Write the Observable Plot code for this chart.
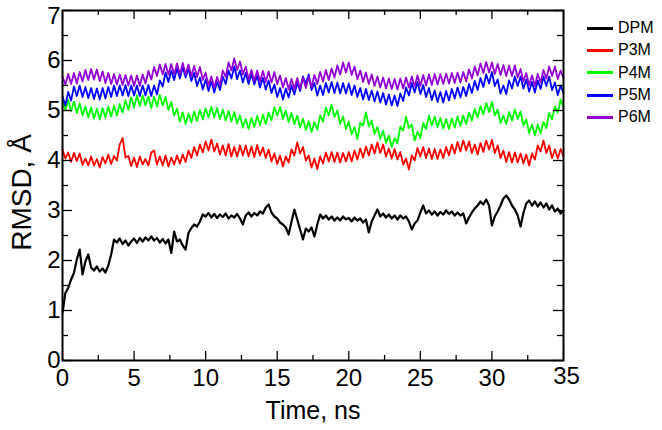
<!DOCTYPE html>
<html>
<head>
<meta charset="utf-8">
<script src="https://cdn.jsdelivr.net/npm/d3@7"></script>
<script src="https://cdn.jsdelivr.net/npm/@observablehq/plot@0.6"></script>
<style>
  html, body { margin: 0; padding: 0; background: #fff; }
  #wrap { position: relative; width: 662px; height: 430px; font-family: "Liberation Sans", Arial, sans-serif; }
  #legend { position: absolute; left: 587px; top: 17px; }
  .item { display: flex; align-items: center; height: 22.3px; }
  .swatch { width: 26px; height: 3px; margin-right: 5px; }
  .lab { font-size: 16px; color: #000; }
</style>
</head>
<body>
<div id="wrap"><div id="chart"></div><div id="legend"></div></div>
<script>
// ---- data (RMSD, Å) sampled every 0.2 ns from 0 to 35 ns ----
const step = 0.2;
const seriesNames = ["DPM", "P3M", "P4M", "P5M", "P6M"];
const seriesColors = ["#000000", "#ff0000", "#00ff00", "#0000ff", "#9400d3"];

const DPM = [0.95,1.35,1.45,1.62,1.75,2.02,2.22,1.72,1.98,2.12,
1.86,1.8,1.88,1.78,1.84,1.76,1.9,2.12,2.42,2.36,
2.44,2.33,2.4,2.3,2.38,2.44,2.35,2.45,2.38,2.46,
2.4,2.48,2.4,2.45,2.36,2.43,2.34,2.42,2.15,2.58,
2.38,2.42,2.3,2.22,2.55,2.65,2.72,2.68,2.78,2.92,
2.88,2.95,2.86,2.93,2.85,2.92,2.87,2.94,2.84,2.9,
2.86,2.93,2.84,2.72,2.9,2.96,2.88,2.95,2.9,2.98,
2.94,3.06,3.12,2.96,2.88,2.84,2.76,2.72,2.66,2.52,
2.78,3.02,2.82,2.62,2.42,2.64,2.58,2.66,2.48,2.72,
2.92,2.84,2.9,2.82,2.88,2.8,2.86,2.8,2.88,2.82,
2.85,2.78,2.86,2.8,2.84,2.76,2.82,2.56,2.78,2.9,
3.02,2.88,2.94,2.86,2.92,2.84,2.9,2.82,2.9,2.84,
2.88,2.78,2.62,2.74,2.8,2.96,3.1,2.94,3.0,2.92,
2.98,2.9,2.97,2.92,3.0,2.93,2.98,2.9,2.96,2.9,
2.94,2.74,2.86,2.96,3.04,3.1,3.18,3.12,3.22,3.1,
2.7,2.88,2.98,3.1,3.24,3.3,3.22,3.1,3.02,2.9,
2.68,2.95,3.14,3.2,3.1,3.18,3.08,3.16,3.06,3.14,
3.02,3.1,2.98,3.04,2.94,3.0];

const P3M = [4.22,4.04,4.16,3.97,4.15,3.99,4.14,3.91,4.04,3.9,
4.08,3.9,4.03,3.86,4.07,3.94,4.12,3.93,4.09,4.0,
4.32,4.45,4.06,4.09,3.89,4.06,3.87,4.08,3.92,4.03,
3.9,4.16,4.2,3.92,4.08,3.9,4.1,3.88,4.06,3.92,
4.1,3.94,4.12,3.97,4.2,4.05,4.27,4.1,4.32,4.16,
4.38,4.2,4.42,4.18,4.34,4.12,4.3,4.1,4.33,4.08,
4.27,4.08,4.3,4.1,4.3,4.08,4.28,4.07,4.31,4.1,
4.26,4.05,4.22,3.98,4.14,3.93,4.1,3.88,4.08,3.96,
4.22,4.1,4.36,4.14,4.27,4.0,4.1,3.86,4.04,3.83,
4.08,3.94,4.16,3.98,4.17,3.97,4.16,3.96,4.15,3.98,
4.17,3.98,4.2,4.02,4.24,4.06,4.28,4.1,4.32,4.14,
4.36,4.15,4.32,4.08,4.24,4.04,4.23,4.02,4.17,3.92,
4.04,3.82,4.1,4.0,4.25,4.08,4.27,4.05,4.24,4.03,
4.23,4.03,4.22,4.05,4.27,4.1,4.32,4.14,4.37,4.18,
4.4,4.2,4.38,4.15,4.32,4.12,4.35,4.17,4.4,4.22,
4.41,4.15,4.3,4.05,4.2,3.97,4.17,3.96,4.16,3.96,
4.14,3.94,4.12,3.9,4.14,4.02,4.3,4.18,4.4,4.15,
4.3,4.05,4.22,4.04,4.23,4.08];

const P4M = [5.2,5.0,5.21,4.98,5.18,4.95,5.14,4.9,5.08,4.86,
5.06,4.84,5.04,4.82,5.05,4.86,5.08,4.88,5.1,4.9,
5.13,4.96,5.2,5.01,5.26,5.06,5.3,5.09,5.3,5.1,
5.28,5.05,5.28,5.08,5.31,5.1,5.27,5.01,5.17,4.9,
5.04,4.78,4.96,4.73,4.94,4.76,4.98,4.79,5.01,4.82,
5.04,4.86,5.08,4.86,5.05,4.83,5.02,4.8,4.99,4.78,
4.97,4.74,4.9,4.66,4.83,4.63,4.85,4.67,4.89,4.7,
4.92,4.73,4.96,4.8,5.06,4.9,5.07,4.83,5.0,4.77,
4.95,4.73,4.9,4.66,4.84,4.61,4.79,4.57,4.77,4.62,
4.9,4.78,5.06,4.9,5.12,4.87,5.0,4.73,4.88,4.63,
4.78,4.52,4.67,4.43,4.75,4.7,4.96,4.68,4.8,4.53,
4.67,4.43,4.6,4.35,4.5,4.27,4.45,4.35,4.68,4.6,
4.88,4.65,4.72,4.4,4.57,4.45,4.75,4.63,4.9,4.7,
4.88,4.66,4.85,4.64,4.83,4.63,4.84,4.66,4.88,4.69,
4.9,4.73,4.96,4.8,5.03,4.86,5.09,4.92,5.15,4.97,
5.17,4.9,5.02,4.75,4.9,4.73,4.97,4.8,5.02,4.83,
4.98,4.7,4.82,4.55,4.72,4.5,4.72,4.54,4.77,4.65,
4.95,4.82,5.08,4.96,5.22,5.05];

const P5M = [5.28,5.1,5.37,5.2,5.48,5.29,5.5,5.27,5.47,5.25,
5.45,5.23,5.44,5.22,5.45,5.24,5.47,5.27,5.5,5.29,
5.5,5.3,5.51,5.29,5.5,5.3,5.5,5.29,5.5,5.3,
5.51,5.29,5.5,5.32,5.6,5.48,5.76,5.57,5.8,5.61,
5.84,5.64,5.87,5.66,5.84,5.59,5.75,5.49,5.66,5.42,
5.62,5.39,5.58,5.36,5.57,5.41,5.68,5.53,5.8,5.64,
5.88,5.63,5.8,5.56,5.75,5.53,5.73,5.52,5.7,5.46,
5.65,5.42,5.6,5.35,5.52,5.27,5.45,5.22,5.44,5.26,
5.5,5.32,5.56,5.39,5.68,5.54,5.72,5.41,5.55,5.3,
5.5,5.31,5.55,5.36,5.57,5.35,5.56,5.34,5.55,5.34,
5.54,5.31,5.5,5.27,5.45,5.22,5.43,5.21,5.4,5.18,
5.38,5.16,5.35,5.12,5.32,5.1,5.3,5.09,5.34,5.19,
5.46,5.3,5.55,5.36,5.57,5.33,5.51,5.27,5.45,5.21,
5.4,5.17,5.37,5.16,5.39,5.2,5.43,5.24,5.46,5.26,
5.47,5.29,5.53,5.35,5.59,5.41,5.65,5.47,5.72,5.54,
5.77,5.49,5.62,5.34,5.5,5.33,5.6,5.44,5.68,5.49,
5.68,5.44,5.62,5.38,5.57,5.36,5.6,5.43,5.68,5.49,
5.68,5.41,5.56,5.31,5.5,5.34];

const P6M = [5.68,5.52,5.73,5.53,5.75,5.54,5.77,5.58,5.81,5.61,
5.83,5.62,5.82,5.59,5.78,5.55,5.75,5.53,5.73,5.52,
5.72,5.51,5.71,5.5,5.7,5.49,5.7,5.49,5.72,5.54,
5.79,5.62,5.87,5.69,5.92,5.72,5.93,5.72,5.93,5.72,
5.94,5.72,5.95,5.72,5.92,5.69,5.89,5.67,5.87,5.61,
5.76,5.5,5.68,5.46,5.67,5.51,5.8,5.67,5.96,5.8,
6.04,5.81,5.98,5.72,5.88,5.63,5.81,5.59,5.8,5.58,
5.79,5.57,5.78,5.56,5.77,5.53,5.7,5.46,5.65,5.42,
5.63,5.43,5.65,5.44,5.66,5.45,5.67,5.47,5.71,5.53,
5.77,5.58,5.81,5.61,5.84,5.66,5.9,5.72,5.96,5.76,
5.96,5.71,5.88,5.63,5.8,5.57,5.76,5.53,5.72,5.49,
5.68,5.46,5.66,5.44,5.64,5.43,5.63,5.42,5.64,5.44,
5.66,5.46,5.68,5.48,5.7,5.49,5.71,5.5,5.72,5.51,
5.73,5.52,5.73,5.53,5.74,5.54,5.75,5.55,5.76,5.56,
5.77,5.58,5.82,5.64,5.88,5.7,5.94,5.75,5.97,5.76,
5.96,5.73,5.93,5.71,5.91,5.69,5.9,5.69,5.9,5.66,
5.83,5.58,5.75,5.51,5.7,5.49,5.73,5.56,5.81,5.64,
5.88,5.69,5.88,5.63,5.8,5.65];

const xMajor = [0, 5, 10, 15, 20, 25, 30, 35];
const xMinor = [2.5, 7.5, 12.5, 17.5, 22.5, 27.5, 32.5];
const yMajor = [0, 1, 2, 3, 4, 5, 6, 7];
const yMinor = [0.5, 1.5, 2.5, 3.5, 4.5, 5.5, 6.5];
const xTitle = "Time, ns";
const yTitle = "RMSD, Å";

// ---- build table ----
const seriesValues = [DPM, P3M, P4M, P5M, P6M];
const rows = [];
seriesValues.forEach((vals, k) => {
  vals.forEach((v, i) => rows.push({s: seriesNames[k], t: +(i * step).toFixed(2), v}));
});

// ---- layout ----
const W = 662, H = 430, mL = 62, mR = 99, mT = 10, mB = 70;
const xDom = [0, 35], yDom = [0, 7];
const pxX = (xDom[1] - xDom[0]) / (W - mL - mR); // data units per px
const pxY = (yDom[1] - yDom[0]) / (H - mT - mB);

const tickRulesX = (vals, len) => [
  Plot.ruleX(vals, {x: d => d, y1: () => yDom[0], y2: () => yDom[0] + len * pxY, stroke: "black", strokeWidth: 1.3}),
  Plot.ruleX(vals, {x: d => d, y1: () => yDom[1], y2: () => yDom[1] - len * pxY, stroke: "black", strokeWidth: 1.3})
];
const tickRulesY = (vals, len) => [
  Plot.ruleY(vals, {y: d => d, x1: () => xDom[0], x2: () => xDom[0] + len * pxX, stroke: "black", strokeWidth: 1.3}),
  Plot.ruleY(vals, {y: d => d, x1: () => xDom[1], x2: () => xDom[1] - len * pxX, stroke: "black", strokeWidth: 1.3})
];

const xLast = xMajor[xMajor.length - 1];
const yLast = yMajor[yMajor.length - 1];

const chart = Plot.plot({
  width: W, height: H,
  marginLeft: mL, marginRight: mR, marginTop: mT, marginBottom: mB,
  style: {fontFamily: "'Liberation Sans', Arial, sans-serif", fontSize: "24px", background: "white", color: "black", overflow: "visible"},
  x: {domain: xDom, axis: null},
  y: {domain: yDom, axis: null},
  color: {domain: seriesNames, range: seriesColors},
  marks: [
    Plot.line(rows.filter(d => d.s !== "DPM"), {x: "t", y: "v", z: "s", stroke: "s", strokeWidth: 1.8}),
    Plot.line(rows.filter(d => d.s === "DPM"), {x: "t", y: "v", stroke: "s", strokeWidth: 2.2}),
    ...tickRulesX(xMajor, 9),
    ...tickRulesX(xMinor, 5),
    ...tickRulesY(yMajor, 10),
    ...tickRulesY(yMinor, 6),
    Plot.frame({stroke: "black", strokeWidth: 2}),
    // tick labels
    Plot.text(xMajor.filter(d => d !== xLast), {x: d => d, frameAnchor: "bottom", lineAnchor: "middle", dy: 18, text: d => String(d), fontSize: 24, fill: "black"}),
    Plot.text([xLast], {x: d => d, frameAnchor: "bottom", lineAnchor: "middle", dy: 16, dx: 3, text: d => String(d), fontSize: 24, fill: "black"}),
    Plot.text(yMajor.filter(d => d !== yLast), {y: d => d, frameAnchor: "left", lineAnchor: "middle", dx: -2, textAnchor: "end", text: d => String(d), fontSize: 24, fill: "black"}),
    Plot.text([yLast], {y: d => d, frameAnchor: "left", lineAnchor: "middle", dx: -2, dy: 6, textAnchor: "end", text: d => String(d), fontSize: 24, fill: "black"}),
    // axis titles
    Plot.text([xTitle], {frameAnchor: "bottom", lineAnchor: "middle", textAnchor: "middle", dy: 50, text: d => d, fontSize: 25, fill: "black"}),
    Plot.text([yTitle], {frameAnchor: "left", lineAnchor: "middle", textAnchor: "middle", dx: -40, dy: 7, rotate: -90, text: d => d, fontSize: 28, fill: "black"})
  ]
});
document.getElementById("chart").appendChild(chart);

// ---- legend ----
const legend = document.getElementById("legend");
seriesNames.forEach((n, k) => {
  const item = document.createElement("div");
  item.className = "item";
  const sw = document.createElement("div");
  sw.className = "swatch";
  sw.style.background = seriesColors[k];
  const lab = document.createElement("span");
  lab.className = "lab";
  lab.textContent = n;
  item.appendChild(sw); item.appendChild(lab);
  legend.appendChild(item);
});
</script>
</body>
</html>
